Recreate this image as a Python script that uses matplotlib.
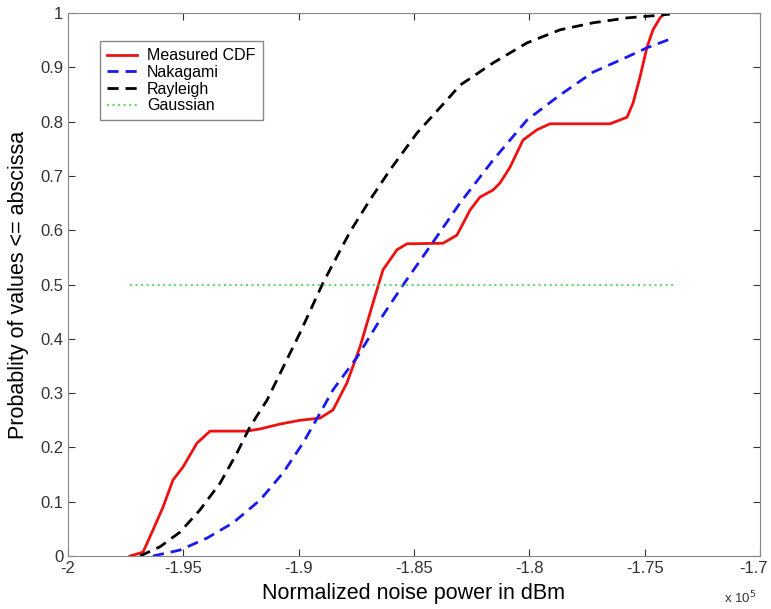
import matplotlib.pyplot as plt
import numpy as np
import matplotlib.ticker as mtick
from matplotlib.transforms import ScaledTranslation

plt.rcParams['font.family'] = ['Liberation Sans', 'DejaVu Sans']

# data in units of 1e5 dBm (axis shows x 10^5)
meas_x = [-1.97312, -1.96748, -1.96315, -1.95881, -1.95448, -1.95014, -1.94407, -1.93844,
          -1.92240, -1.91676, -1.90809, -1.89942, -1.89075, -1.88511, -1.87905, -1.87341,
          -1.86777, -1.86344, -1.85737, -1.85303, -1.83743, -1.83136, -1.82572, -1.82139,
          -1.81575, -1.81272, -1.80838, -1.80275, -1.79668, -1.79104, -1.76503, -1.75766,
          -1.75505, -1.75202, -1.74899, -1.74639, -1.74335, -1.74118]
meas_y = [0, 0.007, 0.048, 0.09, 0.14, 0.164, 0.208, 0.23,
          0.23, 0.234, 0.243, 0.250, 0.254, 0.269, 0.319, 0.385,
          0.466, 0.527, 0.564, 0.575, 0.576, 0.591, 0.637, 0.661,
          0.674, 0.687, 0.716, 0.766, 0.785, 0.796, 0.796, 0.808,
          0.834, 0.882, 0.937, 0.969, 0.991, 1.0]

naka_x = [-1.96315, -1.95145, -1.93974, -1.92847, -1.91676, -1.90679, -1.89812, -1.89075,
          -1.88511, -1.87471, -1.86474, -1.85477, -1.84176, -1.83006, -1.81575, -1.80101,
          -1.78670, -1.77240, -1.75766, -1.74899, -1.73772]
naka_y = [0, 0.011, 0.033, 0.061, 0.103, 0.153, 0.208, 0.263,
          0.306, 0.366, 0.435, 0.499, 0.578, 0.650, 0.729, 0.803,
          0.849, 0.891, 0.919, 0.936, 0.954]

ray_x = [-1.96879, -1.96012, -1.95145, -1.94277, -1.93410, -1.92673, -1.92110, -1.91373,
         -1.89942, -1.88945, -1.87774, -1.86907, -1.86040, -1.84870, -1.83569, -1.83006,
         -1.81575, -1.80101, -1.78670, -1.77240, -1.75766, -1.74335, -1.73902]
ray_y = [0, 0.017, 0.044, 0.085, 0.134, 0.19, 0.238, 0.287,
         0.411, 0.503, 0.597, 0.656, 0.711, 0.779, 0.840, 0.867,
         0.908, 0.945, 0.969, 0.982, 0.991, 0.996, 0.998]

gauss_x = [-1.9731, -1.7369]
gauss_y = [0.5, 0.5]

fig = plt.figure(figsize=(7.71, 6.09), dpi=100)
ax = fig.add_axes([0.0882, 0.087, 0.8975, 0.8916])

ax.plot(meas_x, meas_y, '-', color='#ee1111', lw=2, label='Measured CDF')
ax.plot(naka_x, naka_y, '--', color='#1a1aee', lw=2, dashes=(4, 2.5), label='Nakagami')
ax.plot(ray_x, ray_y, '--', color='black', lw=2, dashes=(4, 2.5), label='Rayleigh')
ax.plot(gauss_x, gauss_y, ':', color='#66d966', lw=1.5, label='Gaussian')

ax.set_xlim(-2, -1.7)
ax.set_ylim(0, 1)
ax.set_xticks(np.arange(-2, -1.699, 0.05))
ax.set_yticks(np.arange(0, 1.01, 0.1))
ax.xaxis.set_major_formatter(mtick.FuncFormatter(lambda v, p: '%g' % round(v, 2)))
ax.yaxis.set_major_formatter(mtick.FuncFormatter(lambda v, p: '%g' % round(v, 2)))
ax.tick_params(direction='in', top=True, right=True, labelsize=12, colors='#333333', length=5)
for s in ax.spines.values():
    s.set_color('#888888')

# keep last x label inside the figure
fig.canvas.draw()
last = ax.get_xticklabels()[-1]
last.set_transform(last.get_transform() + ScaledTranslation(-5 / 72, 0, fig.dpi_scale_trans))

ax.set_xlabel('Normalized noise power in dBm', fontsize=15.5)
ax.set_ylabel('Probablity of values <= abscissa', fontsize=15.5)
ax.xaxis.set_label_coords(0.5, -0.05)
ax.yaxis.set_label_coords(-0.057, 0.5)
fig.text(0.96, 0.01, r'x 10$^5$', fontsize=9.5, ha='center', color='#333333')

leg = ax.legend(loc='upper left', bbox_to_anchor=(0.046, 0.948), fontsize=11.5,
                fancybox=False, framealpha=1, handlelength=1.9, handletextpad=0.6,
                borderpad=0.45, labelspacing=0.1, borderaxespad=0)
leg.get_frame().set_edgecolor('#888888')

plt.savefig('out.png')
